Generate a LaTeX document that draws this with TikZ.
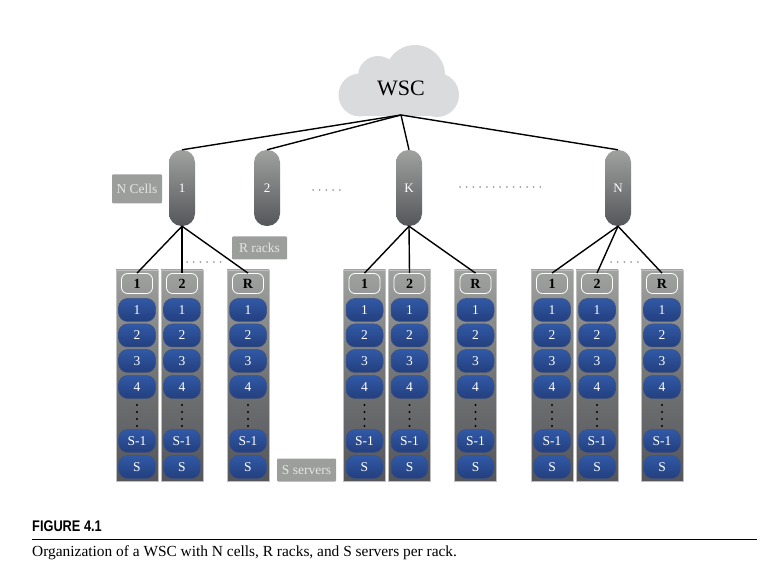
\documentclass[tikz,border=0pt]{standalone}
\usepackage{fontspec}
\setmainfont{Liberation Serif}
\newfontfamily\capfont{Liberation Sans}
\newcommand{\fsize}[1]{\fontsize{#1}{#1}\selectfont}
\definecolor{cloudgray}{HTML}{DADBDD}
\definecolor{boxgray}{HTML}{9C9E9C}
\definecolor{boxtext}{HTML}{E4E6E4}
\definecolor{railtop}{HTML}{A0A2A0}
\definecolor{railmid}{HTML}{737475}
\definecolor{railbot}{HTML}{55565A}
\definecolor{srvtop}{HTML}{3159A6}
\definecolor{srvbot}{HTML}{233F7E}
\begin{document}
\begin{tikzpicture}[x=1pt,y=-1pt]

\tikzset{cell/.style = {shape=rectangle,rounded corners=12.5pt,top color=railtop,bottom color=railbot,minimum width=26pt,minimum height=76pt,inner sep=0pt,text=white,font=\fsize{13}}}
\tikzset{rack/.style = {shape=rectangle,top color=railtop,bottom color=railbot,middle color=railmid,draw=railtop!70,line width=0.5pt,minimum width=42pt,minimum height=211pt,inner sep=0pt}}
\tikzset{racklabel/.style = {shape=rectangle,rounded corners=6pt,draw=white,line width=0.8pt,minimum width=31pt,minimum height=20pt,inner sep=0pt,font=\fsize{14}\bfseries}}
\tikzset{server/.style = {shape=rectangle,rounded corners=9pt,top color=srvtop,bottom color=srvbot,draw=srvbot!70!gray,line width=0.5pt,minimum width=37pt,minimum height=23pt,inner sep=0pt,text=white,font=\fsize{13.5}}}
\tikzset{note/.style = {shape=rectangle,rounded corners=1pt,fill=boxgray,inner sep=0pt,text=boxtext,font=\fsize{13.5}}}
\tikzset{edge/.style = {line width=1.4pt,black}}
\tikzset{hdots/.style = {boxgray,line width=2pt,line cap=round,dash pattern=on 0pt off 6.7pt}}

\useasboundingbox (0,0) rectangle (774,569);

% cloud
\fill[cloudgray] (415,75) circle (30) (378,76) circle (20) (360,95) circle (21.5) (437,95) circle (22);
\fill[cloudgray] (360,75) rectangle (437,116.5);
\node[inner sep=0pt,font=\fsize{22}] (wsc) at (401,88) {WSC};
\coordinate (root) at (401,115);

% cells
\node[cell] (c1) at (182,188) {1};
\node[cell] (c2) at (267,188) {2};
\node[cell] (ck) at (409,188) {K};
\node[cell] (cn) at (618,188) {N};

\draw[edge] (root) to (c1.north);
\draw[edge] (root) to (c2.north);
\draw[edge] (root) to (ck.north);
\draw[edge] (root) to (cn.north);

% racks
\foreach \g/\c/\xa/\xb/\xc in {a/c1/137/182/248, b/ck/364.5/409.5/475.5, c/cn/552/597/662} {
  \foreach \r/\x/\t in {1/\xa/1, 2/\xb/2, 3/\xc/R} {
    \node[rack] (rack\g\r) at (\x,375.5) {};
    \node[racklabel] (lab\g\r) at (\x,283.5) {\t};
    \foreach \s/\y/\n in {1/310/1, 2/335.5/2, 3/361/3, 4/387/4, 5/441/S-1, 6/467/S} {
      \node[server] (srv\g\r\s) at (\x,\y) {\n};
    }
    \foreach \y in {405,412,419,426} {
      \fill[black] (\x,\y) circle (1.1);
    }
    \draw[edge] (\c.south) to (lab\g\r.north);
  }
}

% notes
\node[note,minimum width=50pt,minimum height=29pt] (ncells) at (137,189) {N Cells};
\node[note,minimum width=55pt,minimum height=23pt] (rracks) at (259.5,248) {R racks};
\node[note,minimum width=59pt,minimum height=23pt] (sservers) at (306.5,470) {S servers};

% dots
\draw[hdots] (313,190) -- (342,190);
\draw[hdots] (460,187) -- (544,187);
\draw[hdots] (187,262) -- (223,262);
\draw[hdots] (611,262) -- (640,262);

% caption
\node[anchor=base west,inner sep=0pt,font=\capfont\bfseries\fsize{15.4}] (figlabel) at (32,531.5) {\scalebox{.83}[1]{FIGURE 4.1}};
\draw[line width=1pt] (32,539.5) -- (757,539.5);
\node[anchor=base west,inner sep=0pt,font=\fsize{15.4}] (figcaption) at (32,556.5) {Organization of a WSC with N cells, R racks, and S servers per rack.};

\end{tikzpicture}
\end{document}
